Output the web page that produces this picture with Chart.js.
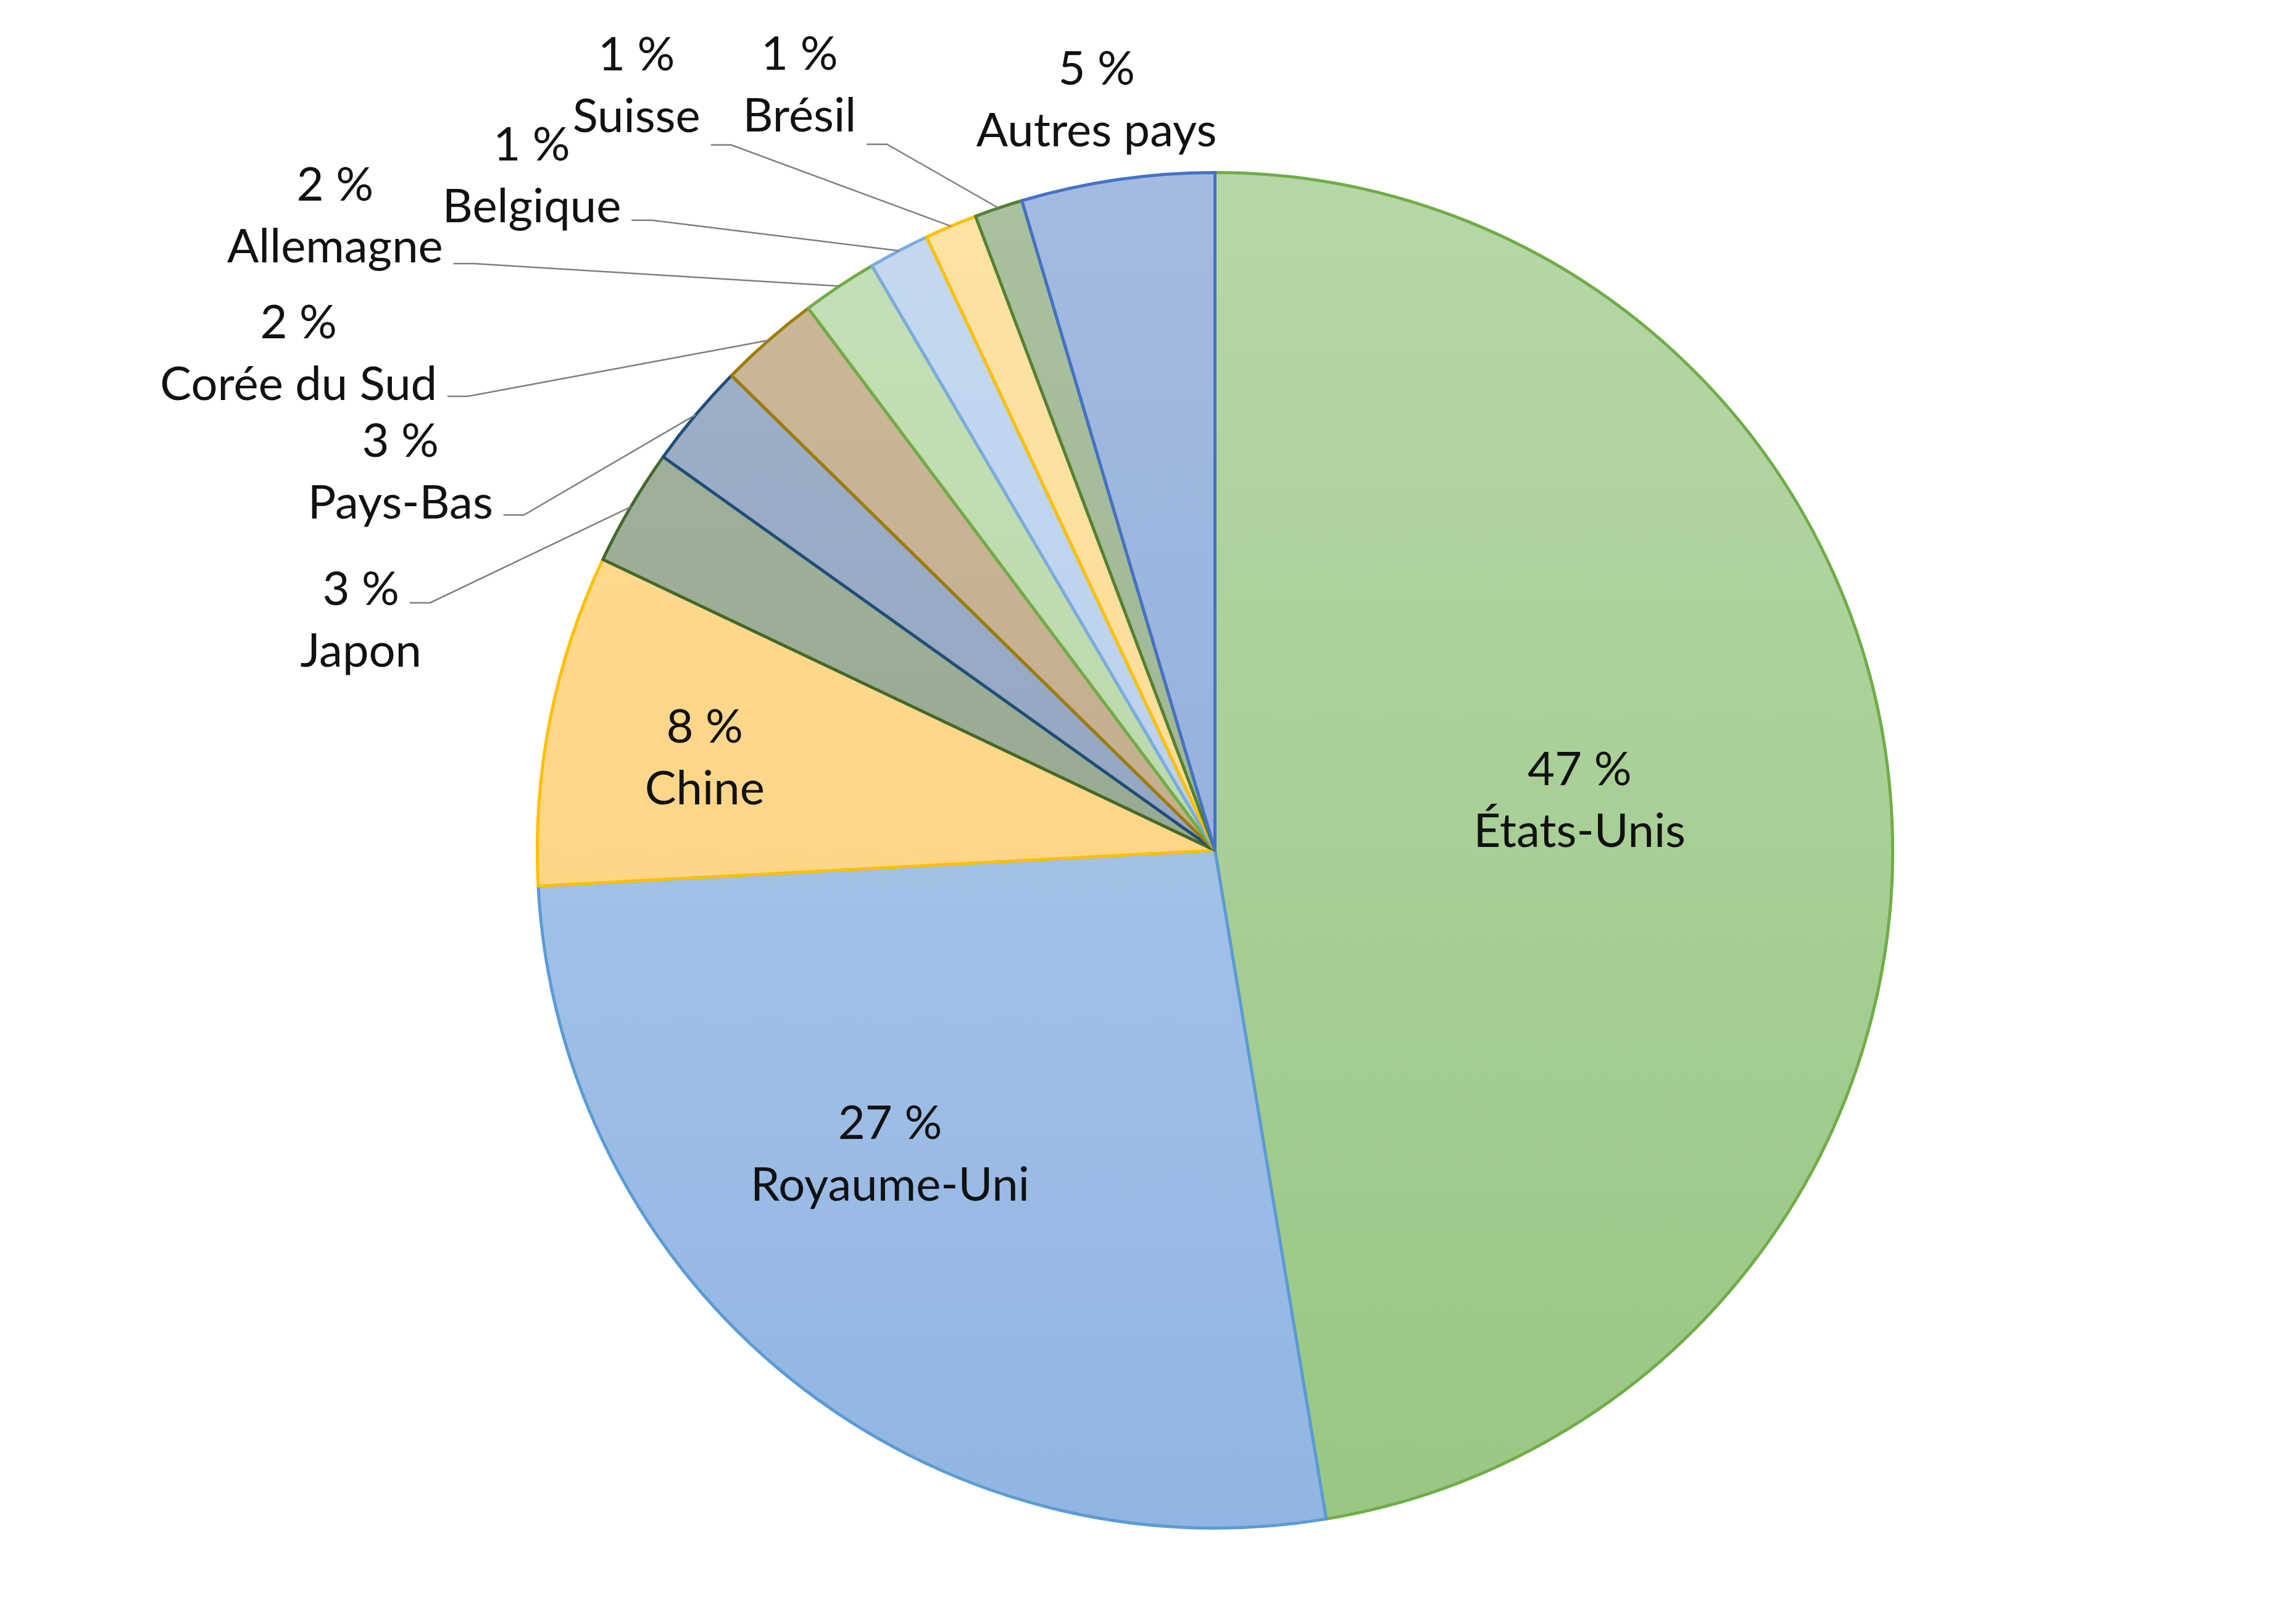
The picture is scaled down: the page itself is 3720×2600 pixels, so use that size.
<!DOCTYPE html>
<html>
<head>
<meta charset="utf-8">
<script src="https://cdn.jsdelivr.net/npm/chart.js@4.4.0/dist/chart.umd.min.js"></script>
<style>
  html, body { margin: 0; padding: 0; background: #fff; }
  #wrap { width: 3720px; height: 2600px; position: relative; }
</style>
</head>
<body>
<div id="wrap"><canvas id="pieChart"></canvas></div>
<script>
// Part of each country (%)
const countries = ['États-Unis', 'Royaume-Uni', 'Chine', 'Japon', 'Pays-Bas', 'Corée du Sud',
  'Allemagne', 'Belgique', 'Suisse', 'Brésil', 'Autres pays'];
const shares = [47.4, 26.8, 7.9, 2.8, 2.5, 2.4, 1.8, 1.45, 1.25, 1.15, 4.6];

// fill gradient (top -> bottom) and border of each slice
const fillTop = ['#b7d7a8', '#b4cdec', '#ffdb95', '#a3b49e', '#a0b1ca', '#cbb99b', '#c6e0b9', '#c6d9f0', '#fee3a6', '#aac1a0', '#a4bbe1'];
const fillBottom = ['#99c783', '#91b5e2', '#fdd17c', '#8da187', '#8b9cb9', '#bca583', '#b0d39e', '#aec8ea', '#fdd68a', '#96ae8a', '#89a9d9'];
const borders = ['#70ad47', '#5b9bd5', '#ffc000', '#43682b', '#1f4e79', '#a07c00', '#70ad47', '#7aace0', '#ffc000', '#548235', '#4472c4'];

// label placement: angle shift from slice middle (deg), distance (x radius), leader attach line
const labelSpots = [
  { da: -3.0, f: 0.543 },
  { da: 8.1, f: 0.657 },
  { da: -1.0, f: 0.765 },
  { da: -15.4, f: 1.305, line: 0, dy: 21 },
  { da: -15.1, f: 1.325, line: 1, dy: 19 },
  { da: -20.35, f: 1.538, line: 1, dy: 19 },
  { da: -20.6, f: 1.60, line: 1, dy: 26 },
  { da: -17.6, f: 1.416, line: 1, dy: 21 },
  { da: -14.2, f: 1.414, line: 1, dy: 45 },
  { da: -9.9, f: 1.284, line: 1, dy: 45 },
  { da: -0.7, f: 1.120 }
];

const LABEL_FONT = '76px Lato';
const LINE_GAP = 100;

function pct(v) {
  return Math.round(v) + ' %';
}

const sliceLabels = {
  id: 'sliceLabels',
  afterDatasetsDraw(chart) {
    const ctx = chart.ctx;
    const meta = chart.getDatasetMeta(0);
    ctx.save();
    ctx.font = LABEL_FONT;
    ctx.fillStyle = '#111111';
    ctx.textAlign = 'center';
    ctx.textBaseline = 'middle';
    ctx.strokeStyle = '#7f7f7f';
    ctx.lineWidth = 2.5;
    meta.data.forEach((arc, i) => {
      const spot = labelSpots[i];
      const mid = (arc.startAngle + arc.endAngle) / 2;
      const a = mid + spot.da * Math.PI / 180;
      const r = arc.outerRadius;
      const cx = arc.x + Math.cos(a) * r * spot.f;
      const cy = arc.y + Math.sin(a) * r * spot.f;
      const lines = [pct(shares[i]), countries[i]];
      lines.forEach((t, k) => ctx.fillText(t, cx, cy + (k - 0.5) * LINE_GAP));

      if (spot.line !== undefined) {
        const ly = cy + (spot.line - 0.5) * LINE_GAP + spot.dy;
        const lx = cx + ctx.measureText(lines[spot.line]).width / 2 + 17;
        const ex = arc.x + Math.cos(mid) * r;
        const ey = arc.y + Math.sin(mid) * r;
        ctx.beginPath();
        ctx.moveTo(lx, ly);
        ctx.lineTo(lx + 33, ly);
        ctx.lineTo(ex, ey);
        ctx.stroke();
      }
    });
    ctx.restore();
  }
};

function sliceFill(context) {
  const i = context.dataIndex;
  const area = context.chart.chartArea;
  if (!area) return fillTop[i];
  const g = context.chart.ctx.createLinearGradient(0, area.top, 0, area.bottom);
  g.addColorStop(0, fillTop[i]);
  g.addColorStop(1, fillBottom[i]);
  return g;
}

new Chart(document.getElementById('pieChart'), {
  type: 'pie',
  data: {
    labels: countries,
    datasets: [{
      data: shares,
      backgroundColor: sliceFill,
      borderColor: borders,
      borderWidth: 5,
      borderJoinStyle: 'round'
    }]
  },
  options: {
    responsive: true,
    maintainAspectRatio: false,
    devicePixelRatio: 1,
    animation: false,
    layout: {
      padding: { left: 868, right: 651, top: 277, bottom: 122 }
    },
    plugins: {
      legend: { display: false },
      tooltip: { enabled: false }
    }
  },
  plugins: [sliceLabels]
});
</script>
</body>
</html>
